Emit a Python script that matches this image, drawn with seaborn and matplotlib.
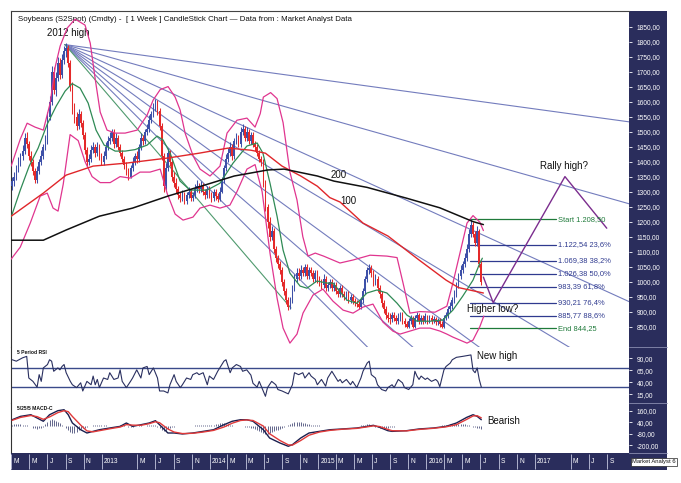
import numpy as np
import pandas as pd
import matplotlib
matplotlib.use("Agg")
import matplotlib.pyplot as plt
import matplotlib.dates as mdates
import matplotlib.transforms as mtrans
from matplotlib.patches import Rectangle
from matplotlib.lines import Line2D
import seaborn as sns

sns.set_theme(style="white")
plt.rcParams['font.family'] = ['Liberation Sans', 'DejaVu Sans']

# ---------------- data ----------------
first_open = 1320
closes = [
1335,1350,1375,1395,1420,1435,1480,1460,1420,1400,
1370,1340,1370,1400,1420,1450,1470,1550,1600,1700,
1640,1680,1730,1690,1740,1770,1780,1730,1650,1580,
1550,1520,1560,1530,1490,1440,1400,1410,1440,1450,
1430,1450,1420,1400,1420,1450,1470,1480,1500,1460,
1480,1450,1430,1410,1390,1370,1350,1380,1400,1420,
1410,1450,1480,1470,1500,1510,1540,1560,1580,1595,
1570,1520,1420,1320,1380,1430,1400,1350,1330,1310,
1290,1280,1290,1270,1290,1300,1280,1290,1310,1320,
1310,1320,1300,1290,1310,1290,1280,1300,1285,1275,
1300,1340,1380,1410,1430,1450,1420,1470,1480,1460,
1500,1510,1480,1500,1470,1490,1460,1450,1430,1410,
1400,1330,1250,1200,1150,1170,1110,1080,1060,1040,
1000,970,940,915,940,980,1010,1030,1020,1040,
1030,1050,1020,1040,1030,1010,1030,1010,1000,990,
1010,980,990,1000,980,990,970,960,980,960,
950,960,940,950,935,930,925,915,940,970,
1010,1040,1045,1030,1000,1010,980,960,930,910,
890,880,875,890,880,870,880,890,870,860,
850,870,880,850,880,890,870,880,870,885,
870,880,870,875,865,870,860,850,880,890,
910,920,940,960,990,1020,1040,1060,1080,1110,
1160,1190,1160,1130,1170,1060,1000]
highs = [
1350,1365,1390,1415,1430,1455,1495,1500,1470,1435,
1410,1380,1385,1410,1440,1460,1490,1565,1620,1720,
1715,1700,1750,1745,1760,1785,1795,1790,1740,1665,
1595,1565,1575,1570,1540,1500,1450,1425,1455,1465,
1460,1465,1460,1430,1435,1465,1485,1500,1510,1510,
1495,1490,1460,1440,1420,1400,1380,1390,1415,1430,
1435,1460,1495,1490,1510,1525,1555,1570,1595,1610,
1605,1580,1530,1430,1395,1445,1440,1410,1365,1345,
1320,1300,1305,1300,1300,1315,1310,1300,1325,1340,
1330,1335,1330,1310,1320,1320,1300,1310,1310,1295,
1315,1350,1390,1425,1445,1465,1460,1480,1495,1490,
1515,1525,1520,1515,1510,1500,1500,1470,1460,1440,
1420,1410,1340,1260,1215,1185,1180,1120,1090,1070,
1050,1010,980,950,950,990,1025,1045,1045,1055,
1050,1060,1060,1050,1050,1040,1040,1040,1020,1010,
1025,1020,1000,1010,1010,1000,1000,980,990,990,
970,970,970,960,960,945,940,935,950,980,
1020,1050,1058,1055,1040,1025,1020,990,970,940,
920,900,895,900,900,890,895,900,900,880,
870,880,890,885,890,900,895,890,890,895,
890,890,888,885,882,880,878,868,888,900,
920,932,950,972,1000,1030,1055,1070,1095,1125,
1175,1208,1200,1170,1185,1175,1070]
lows = [
1305,1320,1340,1365,1385,1405,1425,1445,1405,1385,
1355,1328,1330,1360,1390,1410,1440,1460,1540,1590,
1625,1620,1670,1675,1680,1725,1750,1715,1635,1560,
1530,1505,1510,1515,1475,1425,1385,1390,1400,1430,
1415,1420,1405,1390,1390,1410,1440,1460,1470,1445,
1450,1440,1420,1400,1375,1355,1340,1345,1370,1390,
1395,1400,1440,1455,1460,1490,1500,1530,1550,1570,
1555,1505,1405,1300,1305,1370,1385,1335,1315,1295,
1275,1265,1270,1258,1260,1280,1270,1270,1280,1300,
1295,1300,1290,1275,1280,1280,1265,1270,1272,1265,
1268,1295,1330,1370,1400,1420,1405,1410,1460,1450,
1450,1490,1470,1470,1460,1460,1450,1435,1420,1400,
1385,1315,1235,1180,1135,1140,1095,1065,1045,1025,
985,955,925,905,908,930,970,1000,1005,1010,
1020,1020,1010,1010,1020,1000,1000,995,985,975,
980,970,970,980,970,970,960,950,950,950,
940,940,930,930,925,920,915,910,910,930,
960,1000,1025,1015,985,990,965,945,915,895,
875,865,860,865,868,858,860,870,860,850,
845,845,860,845,845,870,860,860,860,862,
860,862,860,862,855,855,850,844,846,872,
880,900,910,930,950,980,1010,1030,1050,1070,
1100,1150,1150,1120,1120,1050,990]

# indicator lines: (week index, value)
sma_pts = [(-0.5,1215),(3.9,1305),(8.2,1385),(12.5,1445),(16.9,1525),(21.2,1585),(25.5,1635),
           (28.9,1660),(32.7,1645),(36.6,1595),(40.4,1505),(44.3,1455),(49.6,1435),(54.4,1435),
           (59.2,1440),(65,1455),(69.8,1485),(72.7,1472),(76.1,1428),(80.9,1335),(85.7,1305),
           (93.9,1305),(100.1,1328),(106.4,1395),(113.1,1452),(118,1462),(120.8,1428),(124.2,1328),
           (127.6,1218),(130.5,1105),(133.8,1028),(138.7,985),(142,978),(146.8,1002),(151.7,995),
           (154.5,995),(161.3,938),(166.1,928),(170.9,962),(175.7,972),(180.5,962),(185.4,928),
           (190.2,888),(195,868),(201.3,868),(207.5,872),(212.3,905),(217.1,952),(222,1005),
           (225.3,1062),(226.5,1078)]
ma100_pts = [(-0.5,1218),(15,1295),(26,1355),(39,1385),(55,1395),(75,1412),(90,1428),(104,1445),
             (115,1438),(122,1428),(130,1385),(139,1352),(147,1318),(153,1280),(158,1265),
             (169,1195),(181,1152),(196,1072),(209,1005),(215,980),(223,968),(227,962)]
ma200_pts = [(-0.5,1138),(15,1138),(26,1172),(42,1218),(58,1245),(75,1285),(91,1318),(107,1352),
             (123,1372),(131,1375),(147,1352),(155,1335),(171,1314),(190,1278),(206,1246),
             (222,1200),(227,1190)]
bb_up_pts = [(-0.5,1385),(3.9,1475),(7.2,1528),(11,1515),(15,1505),(18.3,1595),(20.7,1715),
             (23.1,1785),(26.5,1845),(30.3,1875),(35.1,1855),(37.6,1795),(40,1675),(42.4,1565),
             (45.7,1505),(49.6,1495),(54.4,1495),(60.2,1505),(65,1555),(67.9,1605),(71.3,1640),
             (75.1,1650),(78.5,1615),(80.9,1572),(83.3,1495),(87.1,1420),(90.5,1375),(95.3,1352),
             (100.1,1385),(103.5,1495),(108.3,1538),(113.1,1545),(117,1515),(119.5,1560),
             (121,1615),(124.5,1630),(127.6,1610),(130.5,1530),(133.8,1365),(137.2,1272),
             (140,1150),(142.5,1085),(146,1095),(150,1085),(157.9,1062),(164.2,1072),(172.4,1088),
             (180.5,1085),(185.4,1080),(188.3,995),(191.6,895),(196.4,900),(203.7,898),
             (209.4,918),(212.3,995),(215.7,1095),(219.1,1195),(222,1220),(225.3,1198),(227,1170)]
bb_lo_pts = [(-0.5,1075),(3.9,1115),(8.7,1195),(13.5,1285),(16.9,1295),(19.7,1245),(22.1,1235),
             (24.6,1325),(27.9,1490),(31.8,1470),(35.1,1400),(38.5,1350),(42.4,1330),(47.2,1330),
             (52,1350),(56.8,1345),(61.6,1365),(66.4,1365),(71.3,1375),(74.6,1295),(78.5,1225),
             (82.3,1205),(87.1,1215),(90.5,1245),(95.3,1255),(100.1,1245),(104.9,1255),
             (108.3,1300),(113.1,1375),(117,1390),(120.4,1300),(124.2,1095),(127.6,945),
             (130.5,845),(133.8,795),(137.2,825),(140.1,895),(144.9,955),(149.7,975),(154.5,935),
             (159.4,905),(164.2,895),(169,915),(173.8,925),(178.6,865),(183.4,835),(186.8,825),
             (191.6,835),(196.4,845),(201.3,845),(206.1,835),(209.4,825),(212.3,815),(215.7,805),
             (219.1,795),(222,805),(225.3,850),(227.2,885)]

rsi_pts = [(0,87),(2,84),(5,91),(7,94),(8,49),(10,42),(12,30),(13,56),(14,42),(15,70),(17,77),
           (18,87),(19,84),(20,63),(22,70),(23,66),(24,73),(25,77),(26,60),(28,42),(29,35),(31,29),
           (33,39),(34,22),(36,42),(38,35),(39,53),(40,35),(41,46),(42,29),(44,49),(46,46),(47,60),
           (49,46),(51,49),(52,66),(53,42),(55,29),(57,42),(58,49),(60,66),(62,49),(63,70),(65,73),
           (66,56),(68,70),(70,49),(71,22),(73,22),(75,18),(76,35),(78,56),(79,42),(81,29),(82,35),
           (84,49),(86,46),(87,56),(89,60),(90,56),(92,60),(94,35),(95,53),(97,46),(99,63),(100,70),
           (102,84),(103,87),(105,60),(106,70),(108,77),(110,73),(111,63),(113,66),(115,55),
           (116,38),(118,30),(119,42),(122,11),(123,29),(125,42),(127,35),(128,25),(130,22),
           (133,16),(135,35),(136,60),(138,56),(140,60),(141,49),(143,60),(144,53),(146,46),
           (147,35),(149,46),(151,32),(152,49),(154,63),(157,42),(158,46),(159,39),(161,46),
           (163,35),(164,42),(166,29),(168,49),(169,63),(171,80),(172,84),(173,56),(175,49),
           (176,35),(178,25),(180,22),(181,29),(183,35),(184,29),(186,46),(188,39),(189,29),
           (191,25),(193,35),(194,63),(195,53),(196,46),(197,53),(199,46),(200,49),(202,42),
           (204,46),(205,42),(206,31),(208,66),(209,73),(211,80),(212,87),(214,92),(217,94),
           (221,97),(222,65),(223,60),(224,70),(225,46),(226,30)]
rsi_levels = [70, 30]

macd_pts = [(0,66),(4,101),(9,118),(12,84),(15,50),(18,118),(22,160),(25,170),(27,118),(29,32),
            (33,-38),(36,-72),(39,-55),(42,-38),(47,-20),(52,-3),(55,32),(58,-3),(62,14),(66,32),
            (69,56),(71,14),(75,-72),(78,-72),(82,-82),(87,-72),(92,-55),(97,-38),(102,14),
            (106,50),(110,66),(113,66),(116,50),(121,-38),(124,-124),(129,-176),(133,-210),
            (135,-193),(139,-124),(143,-72),(148,-55),(153,-38),(159,-30),(166,-20),(171,-3),
            (174,8),(177,-13),(181,-48),(183,-55),(190,-48),(196,-30),(203,-20),(209,-3),
            (214,32),(219,91),(222,118),(224,101),(226,66)]
signal_pts = [(0,60),(4,90),(9,110),(12,98),(15,70),(18,95),(22,140),(25,160),(27,150),(29,100),
              (33,10),(36,-50),(39,-60),(42,-48),(47,-28),(52,-10),(55,15),(58,10),(62,8),(66,25),
              (69,45),(71,35),(75,-30),(78,-62),(82,-78),(87,-75),(92,-62),(97,-45),(102,-10),
              (106,30),(110,58),(113,64),(116,58),(121,0),(124,-80),(129,-150),(133,-195),
              (135,-198),(139,-150),(143,-95),(148,-62),(153,-45),(159,-33),(166,-24),(171,-8),
              (174,2),(177,-5),(181,-35),(183,-48),(190,-50),(196,-35),(203,-23),(209,-8),
              (214,15),(219,70),(222,105),(224,108),(226,85)]
hist = [15,20,25,25,20,15,15,10,5,0,
        -15,-25,-30,-25,-15,-5,
        20,40,60,70,65,55,45,
        30,15,0,
        -20,-45,-65,-75,-70,-60,-45,-35,
        -25,-15,-5,0,5,10,
        12,12,10,10,8,8,6,6,5,5,5,6,8,
        10,10,5,-5,-10,-5,
        0,5,8,8,6,6,8,10,12,12,10,
        -5,-25,-45,-55,-50,-35,-20,-10,-5,
        0,2,0,3,5,5,6,6,6,7,8,8,8,8,
        8,10,10,12,15,20,25,30,30,28,25,20,15,10,
        5,3,2,0,-3,-5,-8,-12,-18,-25,
        -35,-45,-55,-65,-75,-80,-80,-75,-65,-55,-45,-40,
        -30,-20,-10,0,10,20,
        30,40,45,45,40,35,30,25,20,15,12,10,
        8,8,6,5,5,5,4,4,4,3,3,3,3,3,3,3,4,4,4,5,6,8,10,15,
        20,20,15,5,-5,-12,
        -18,-22,-22,-20,-15,-12,-8,-5,-3,
        0,2,3,4,5,5,5,5,5,5,5,6,6,6,5,5,5,5,6,6,6,8,10,
        12,15,18,20,22,25,25,25,22,18,15,10,5,-5,-12,-20,-25,-30]

# Gann fan from the 2012 high; each ray given by its price on 2016-01-01
fan_apex = ("2012-08-30", 1790)
fan_ref_date = "2016-01-01"
fan_ref_prices = [1625, 1450, 1241, 1067, 910, 742, 585]
fan_green_end = ("2014-10-01", 912)

fib_levels = [1208.50, 1122.54, 1069.38, 1026.38, 983.39, 930.21, 885.77, 844.25]
fib_labels = ["Start 1.208,50", "1.122,54 23,6%", "1.069,38 38,2%", "1.026,38 50,0%",
              "983,39 61,8%", "930,21 76,4%", "885,77 88,6%", "End 844,25"]
fib_span = ("2016-05-27", "2017-03-13")

proj_dates = ["2016-07-11", "2016-08-13", "2017-04-12", "2017-08-31"]
proj_prices = [1015, 930, 1350, 1178]

price_ticks = list(range(850, 1851, 50))
rsi_ticks = [90, 65, 40, 15]
macd_ticks = [160, 40, -80, -200]

month_ticks = ["2012-03-01","2012-05-01","2012-07-01","2012-09-01","2012-11-01","2013-01-01",
               "2013-05-01","2013-07-01","2013-09-01","2013-11-01","2014-01-01","2014-03-01",
               "2014-05-01","2014-07-01","2014-09-01","2014-11-01","2015-01-01","2015-03-01",
               "2015-05-01","2015-07-01","2015-09-01","2015-11-01","2016-01-01","2016-03-01",
               "2016-05-01","2016-07-01","2016-09-01","2016-11-01","2017-01-01","2017-05-01",
               "2017-07-01","2017-09-01"]
month_labels = ["M","M","J","S","N","2013","M","J","S","N","2014","M","M","J","S","N","2015",
                "M","M","J","S","N","2016","M","M","J","S","N","2017","M","J","S"]

# ---------------- helpers ----------------
T0 = mdates.date2num(pd.Timestamp("2012-03-05"))
def wk(w):
    return T0 + 7.0 * np.asarray(w, dtype=float)
def dn(s):
    return mdates.date2num(pd.Timestamp(s))

NAVY = '#2a2d5c'
UP = '#3d50a8'
DN = '#e42a2a'
W, H = 681, 483

fig = plt.figure(figsize=(6.81, 4.83), dpi=100)
fig.patch.set_facecolor('white')

def box(x0, y0, x1, y1):
    return [x0 / W, 1 - y1 / H, (x1 - x0) / W, (y1 - y0) / H]

ax = fig.add_axes(box(11, 11, 629, 347))
ax_r = fig.add_axes(box(11, 347, 629, 403), sharex=ax)
ax_m = fig.add_axes(box(11, 403, 629, 453), sharex=ax)
ax_b = fig.add_axes(box(11, 453, 629, 470), sharex=ax)

# navy axis bands
fig.add_artist(Rectangle((629 / W, 1 - 470 / H), 38 / W, 459 / H, transform=fig.transFigure,
                         facecolor=NAVY, edgecolor='none', zorder=-1))
fig.add_artist(Rectangle((11 / W, 1 - 470 / H), 656 / W, 17 / H, transform=fig.transFigure,
                         facecolor=NAVY, edgecolor='none', zorder=-1))
for yy in (347, 403, 453):
    fig.add_artist(Line2D([629 / W, 667 / W], [1 - yy / H] * 2, transform=fig.transFigure,
                          color='#8a8db0', lw=0.6, zorder=-0.5))

XL = (dn("2012-03-01"), dn("2017-11-14"))

# ---------------- main panel ----------------
n = len(closes)
xs = wk(np.arange(n))
c = np.array(closes, float)
o = np.concatenate([[first_open], c[:-1]])
hi = np.array(highs, float)
lo = np.array(lows, float)
up = c >= o
cols = np.where(up, UP, DN)
ax.vlines(xs, lo, hi, colors=cols, lw=0.75, zorder=3)
body = c - o
body = np.where(np.abs(body) < 3, 3, body)
ax.bar(xs, body, bottom=o, width=5.6, color=cols, linewidth=0, zorder=3)

def line(axis, pts, color, lw, z=4):
    ww, vv = zip(*pts)
    sns.lineplot(x=wk(ww), y=np.array(vv, float), ax=axis, color=color, lw=lw,
                 estimator=None, sort=False, zorder=z)

line(ax, bb_up_pts, '#e0358f', 0.9)
line(ax, bb_lo_pts, '#e0358f', 0.9)
line(ax, sma_pts, '#2f8a55', 0.9)
line(ax, ma100_pts, '#e0262a', 1.0)
line(ax, ma200_pts, '#111111', 1.1)

# Gann fan
at, ap = dn(fan_apex[0]), fan_apex[1]
rt = dn(fan_ref_date)
for pr in fan_ref_prices:
    pe = ap + (pr - ap) * (XL[1] - at) / (rt - at)
    ax.plot([at, XL[1]], [ap, pe], color='#737cbd', lw=0.8, zorder=2)
ax.plot([at, dn(fan_green_end[0])], [ap, fan_green_end[1]], color='#4f9a6e', lw=0.8, zorder=2)

# Fibonacci retracement
f0, f1 = dn(fib_span[0]), dn(fib_span[1])
for i, (lv, lb) in enumerate(zip(fib_levels, fib_labels)):
    colr = '#1f7a3a' if i in (0, len(fib_levels) - 1) else '#2f3a8f'
    ax.plot([f0, f1], [lv, lv], color=colr, lw=0.9, zorder=2)
    ax.text(dn("2017-03-20"), lv, lb, color=colr, fontsize=5.4, va='center', ha='left', zorder=6)

# projection path
ax.plot([dn(d) for d in proj_dates], proj_prices, color='#7b2d8e', lw=1.0, zorder=5)

# annotations
ax.text(dn("2012-06-30"), 1829, "2012 high", fontsize=7, va='center', ha='left', color='#111111')
ax.text(dn("2015-02-13"), 1354, "200", fontsize=7, va='center', ha='left', color='#111111')
ax.text(dn("2015-03-17"), 1270, "100", fontsize=7, va='center', ha='left', color='#111111')
ax.text(dn("2017-01-18"), 1386, "Rally high?", fontsize=7, va='center', ha='left', color='#111111')
ax.text(dn("2016-05-16"), 909, "Higher low?", fontsize=7, va='center', ha='left', color='#111111',
        zorder=7)
ax.text(0.011, 0.976, "Soybeans (S2Spot) (Cmdty) -  [ 1 Week ] CandleStick Chart \u2014 Data from : Market Analyst Data",
        transform=ax.transAxes, fontsize=5.7, va='center', ha='left', color='#111111')

ax.set_xlim(*XL)
ax.set_ylim(782, 1902)

# ---------------- RSI panel ----------------
line(ax_r, rsi_pts, '#2a3060', 0.8)
for lv in rsi_levels:
    ax_r.axhline(lv, color='#3a4a8a', lw=1.0, zorder=2)
ax_r.set_ylim(-3, 113.5)
ax_r.text(0.01, 0.9, "5 Period RSI", transform=ax_r.transAxes, fontsize=3.6, fontweight='bold',
          va='center', ha='left', color='#111111')
ax_r.text(dn("2016-06-18"), 94.2, "New high", fontsize=7, va='center', ha='left', color='#111111')

# ---------------- MACD panel ----------------
ax_m.vlines(wk(np.arange(len(hist))), 0, np.array(hist, float), colors='#4a4f7a', lw=0.6, zorder=2)
line(ax_m, macd_pts, '#1b1f4f', 1.0)
line(ax_m, signal_pts, '#e03a3a', 1.0, z=5)
ax_m.set_ylim(-280, 240)
ax_m.text(0.01, 0.9, "5/25/5 MACD-C", transform=ax_m.transAxes, fontsize=3.6, fontweight='bold',
          va='center', ha='left', color='#111111')
ax_m.text(dn("2016-07-23"), 53, "Bearish", fontsize=7, va='center', ha='left', color='#111111')

# ---------------- axes styling ----------------
for a, ticks in ((ax, price_ticks), (ax_r, rsi_ticks), (ax_m, macd_ticks)):
    a.set_facecolor('white')
    a.yaxis.tick_right()
    a.set_yticks(ticks)
    a.set_yticklabels([f"{t},00" for t in ticks])
    a.tick_params(axis='y', colors='white', labelsize=4.8, length=2.5, width=0.6, pad=3,
                  direction='out', left=False, right=True)
    a.tick_params(axis='x', bottom=False, labelbottom=False)
    for s in ('right', 'bottom', 'top'):
        a.spines[s].set_visible(False)
    a.spines['left'].set_color('#333333')
    a.spines['left'].set_linewidth(0.8)
    a.set_xlabel('')
    a.set_ylabel('')
    a.grid(False)
ax.spines['top'].set_visible(True)
ax.spines['top'].set_color('#444444')
ax.spines['top'].set_linewidth(0.8)

# bottom date band
ax_b.set_facecolor(NAVY)
ax_b.set_ylim(0, 1)
ax_b.set_yticks([])
ax_b.tick_params(axis='x', bottom=False, labelbottom=False)
for s in ax_b.spines.values():
    s.set_visible(False)
tick_nums = [dn(d) for d in month_ticks]
ax_b.vlines(tick_nums, 0.08, 0.92, colors='#c5c8e0', lw=0.6)
off = mtrans.offset_copy(ax_b.transData, fig=fig, x=1.6, y=0, units='points')
for t, lb in zip(tick_nums, month_labels):
    ax_b.text(t, 0.5, lb, transform=off, fontsize=4.8, color='white', va='center', ha='left')

fig.text(632 / W, 1 - 462 / H, "Market Analyst 6", fontsize=4.2, color='#111111', va='center',
         ha='left', bbox=dict(boxstyle='square,pad=0.25', facecolor='white', edgecolor='#222222',
                              linewidth=0.5))

fig.savefig("out.png", dpi=100)
